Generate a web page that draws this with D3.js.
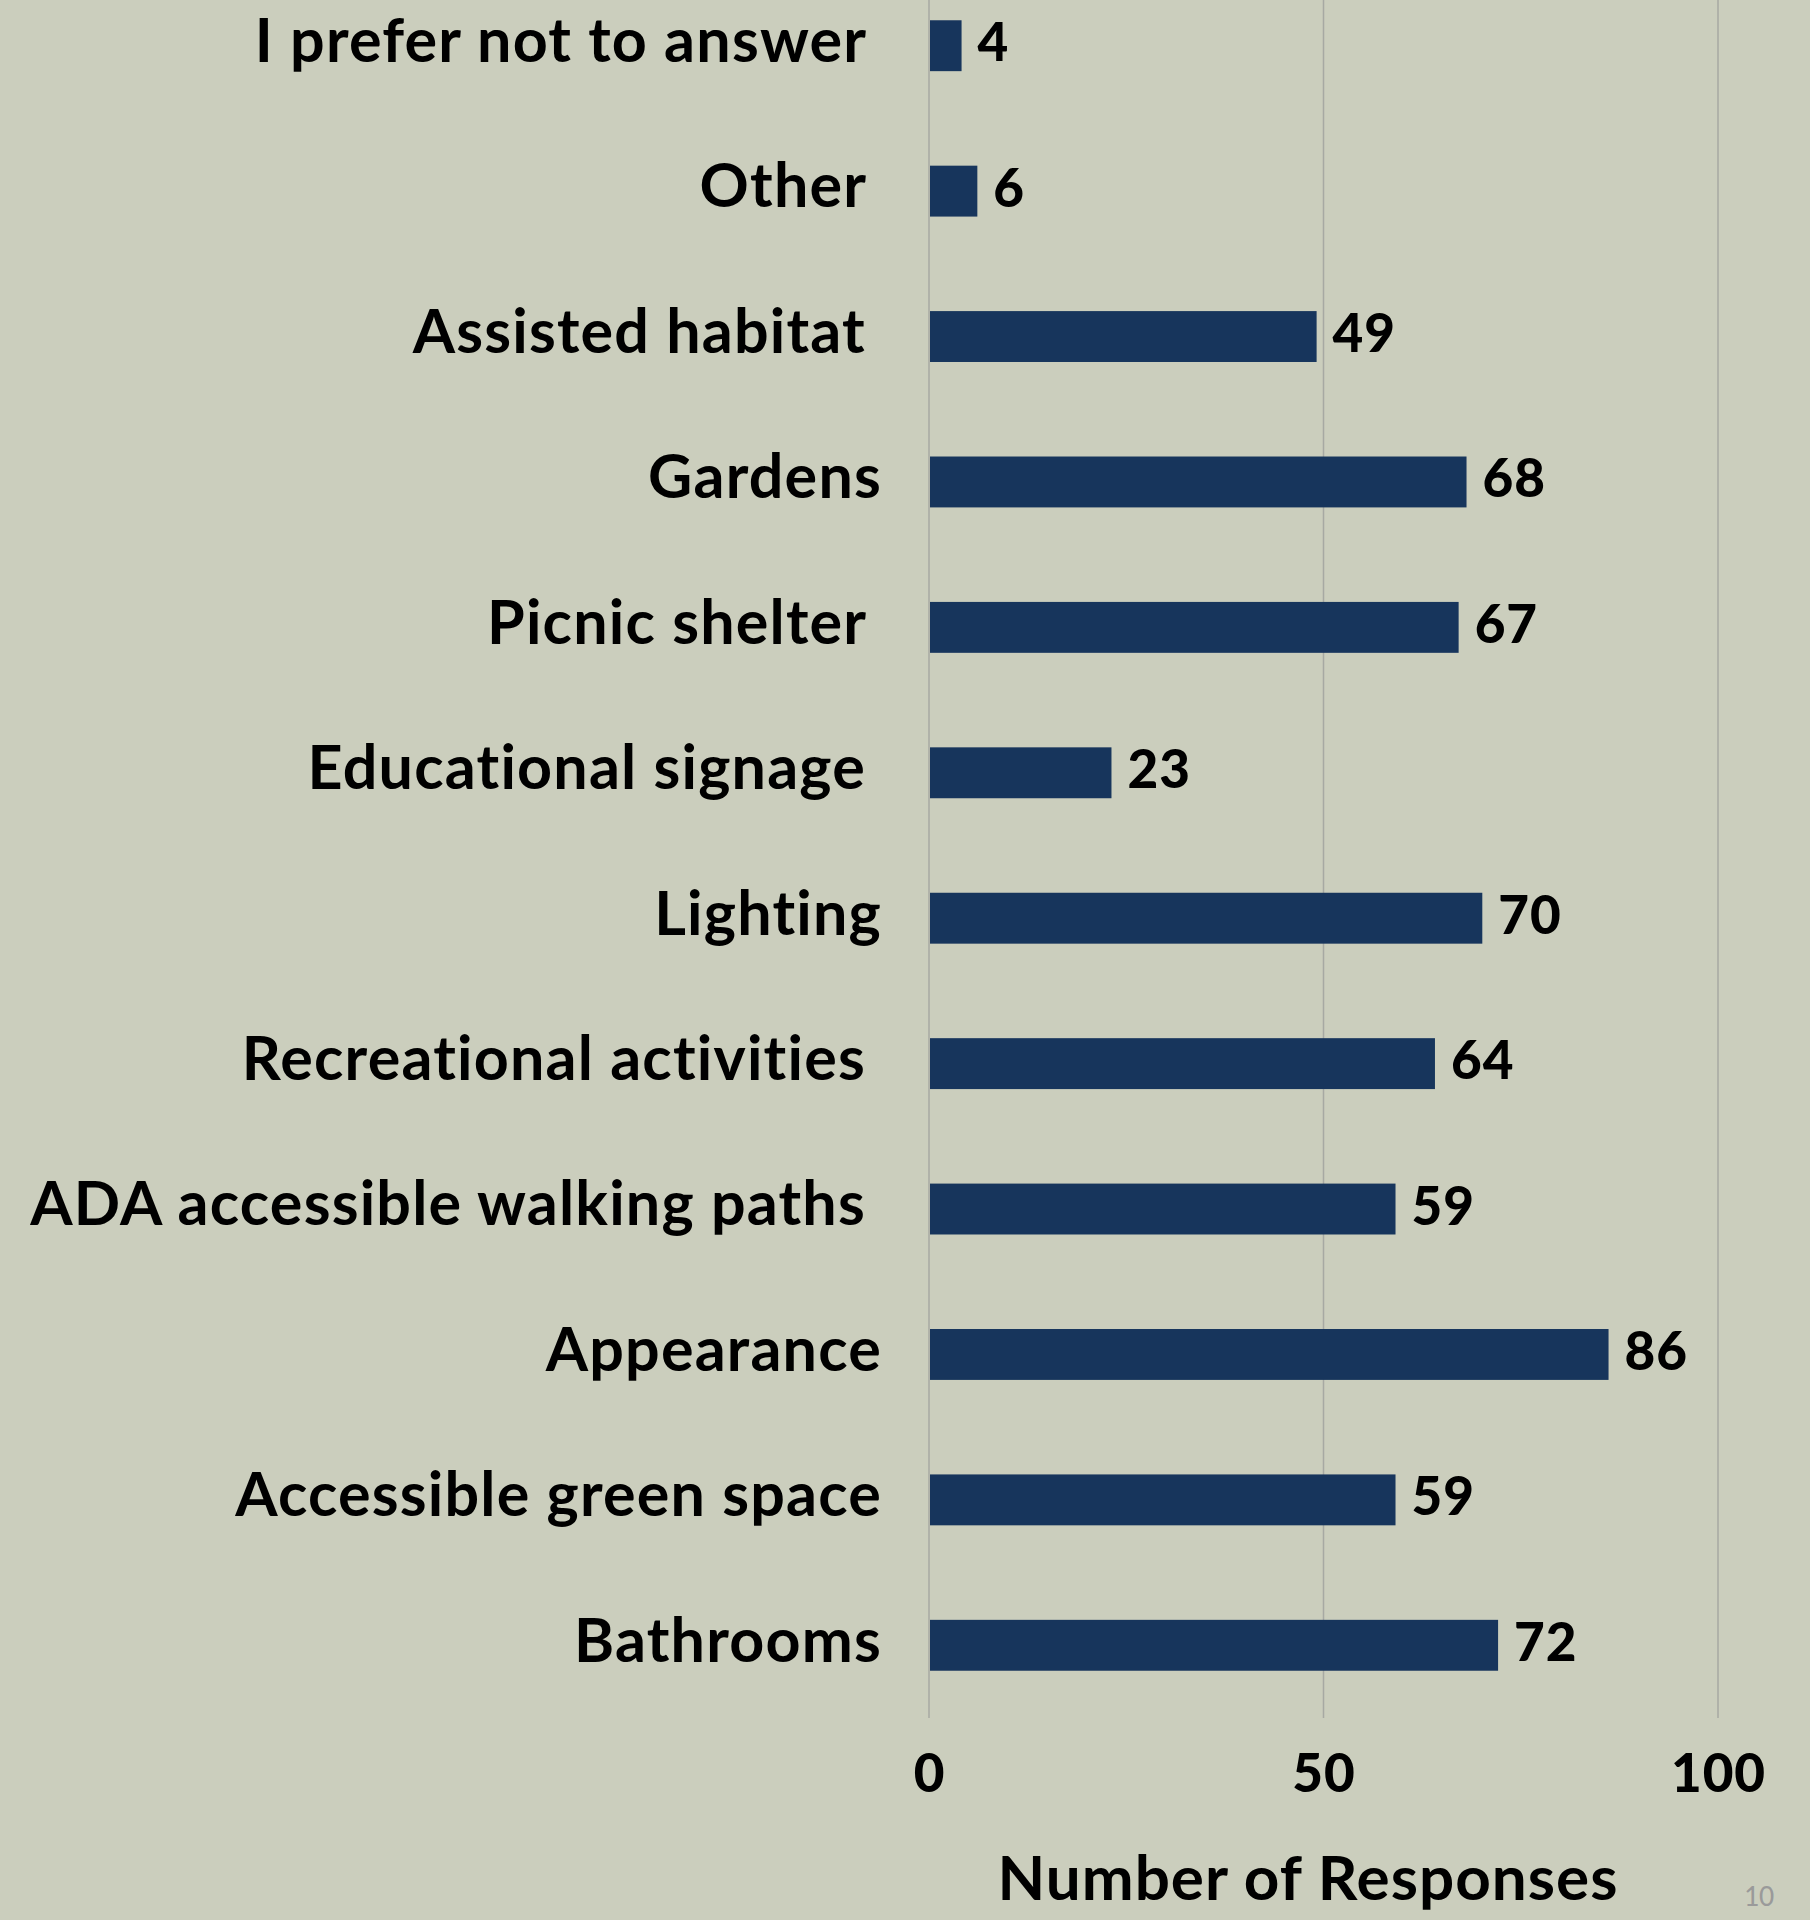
<!DOCTYPE html>
<html>
<head>
<meta charset="utf-8">
<script src="https://cdn.jsdelivr.net/npm/d3@7"></script>
<style>
  html, body { margin: 0; padding: 0; background: #cbcebd; overflow: hidden; }
  svg text { font-family: Lato, "Open Sans", sans-serif; font-weight: 700; fill: #000; white-space: pre; }
</style>
</head>
<body>
<div id="chart"></div>
<script>
// Survey answers, top to bottom as they appear
// (some labels carry a trailing space, as in the original slide)
const categories = [
    'I prefer not to answer ',
    'Other ',
    'Assisted habitat ',
    'Gardens',
    'Picnic shelter ',
    'Educational signage ',
    'Lighting',
    'Recreational activities ',
    'ADA accessible walking paths ',
    'Appearance',
    'Accessible green space',
    'Bathrooms'
];
const responses = [4, 6, 49, 68, 67, 23, 70, 64, 59, 86, 59, 72];
const xTicks = [0, 50, 100];
const axisTitle = 'Number of Responses';
const pageNumber = '10';

const width = 1810;
const height = 1920;
const plot = { left: 929, right: 1718, top: -27, bottom: 1718 };

const svg = d3.select('#chart')
    .append('svg')
    .attr('width', width)
    .attr('height', height);

svg.append('rect')
    .attr('width', width)
    .attr('height', height)
    .attr('fill', '#cbcebd');

const x = d3.scaleLinear()
    .domain([0, 100])
    .range([plot.left, plot.right]);

const y = d3.scaleBand()
    .domain(categories)
    .range([plot.top, plot.bottom])
    .paddingInner(0.65)
    .paddingOuter(0.325);

// Vertical gridlines
svg.append('g')
    .selectAll('line')
    .data(xTicks)
    .join('line')
    .attr('x1', d => x(d))
    .attr('x2', d => x(d))
    .attr('y1', plot.top)
    .attr('y2', plot.bottom)
    .attr('stroke', '#a7a9a3')
    .attr('stroke-width', 1.5);

// Bars
svg.append('g')
    .selectAll('rect')
    .data(responses)
    .join('rect')
    .attr('x', x(0) + 1)
    .attr('y', (d, i) => y(categories[i]))
    .attr('width', d => x(d) - x(0))
    .attr('height', y.bandwidth())
    .attr('fill', '#17355c');

// Value labels
svg.append('g')
    .selectAll('text')
    .data(responses)
    .join('text')
    .attr('x', d => x(d) + 17)
    .attr('y', (d, i) => y(categories[i]) + y.bandwidth() / 2 - 5)
    .attr('dominant-baseline', 'central')
    .attr('font-size', 53)
    .style('font-weight', 900)
    .style('letter-spacing', '1px')
    .text(d => d);

// Category axis (labels only)
const yAxis = svg.append('g')
    .attr('transform', `translate(${plot.left - 47},-5)`)
    .call(d3.axisLeft(y).tickSize(0).tickPadding(0));
yAxis.select('.domain').remove();
yAxis.selectAll('text')
    .attr('font-size', 61)
    .attr('dy', '0.35em')
    .style('font-family', 'Lato, sans-serif')
    .style('font-weight', 700)
    .style('letter-spacing', '1.2px')
    .attr('fill', '#000');

// Value axis (labels only)
const xAxis = svg.append('g')
    .attr('transform', `translate(0,${plot.bottom})`)
    .call(d3.axisBottom(x).tickValues(xTicks).tickSize(0).tickPadding(0));
xAxis.select('.domain').remove();
xAxis.selectAll('text')
    .attr('y', 55)
    .attr('dy', '0.35em')
    .attr('font-size', 53)
    .style('font-family', 'Lato, sans-serif')
    .style('font-weight', 900)
    .style('letter-spacing', '1px')
    .attr('fill', '#000');

// Axis title
svg.append('text')
    .attr('x', 1308)
    .attr('y', 1900)
    .attr('text-anchor', 'middle')
    .attr('font-size', 62)
    .style('letter-spacing', '1px')
    .text(axisTitle);

// Slide page number
svg.append('text')
    .attr('x', 1759)
    .attr('y', 1906)
    .attr('text-anchor', 'middle')
    .attr('font-size', 30)
    .style('font-family', 'Carlito, Calibri, "Liberation Sans", sans-serif')
    .style('font-weight', 400)
    .style('fill', '#9a9a9a')
    .text(pageNumber);
</script>
</body>
</html>
